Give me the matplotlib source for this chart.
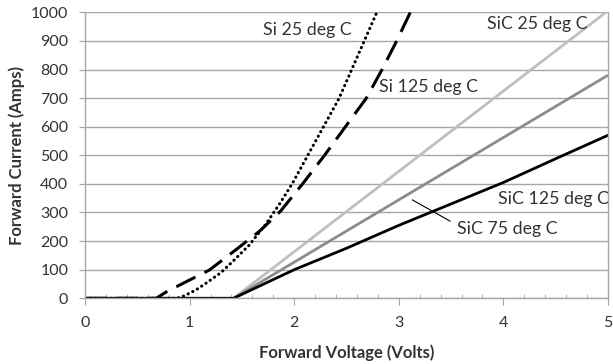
import matplotlib
matplotlib.use("Agg")
import matplotlib.pyplot as plt
from matplotlib.ticker import MultipleLocator

plt.rcParams['font.family'] = ['Lato', 'DejaVu Sans']

# Si diodes (volts, amps)
si25_v = [0.0, 0.88, 0.95, 1.06, 1.17, 1.30, 1.41, 1.57, 1.72, 1.86, 1.98, 2.13, 2.28, 2.43, 2.55, 2.67, 2.79]
si25_a = [0, 0, 9, 29, 56, 90, 128, 186, 255, 330, 400, 500, 600, 700, 800, 900, 1000]

si125_v = [0.0, 0.68, 0.78, 1.0, 1.19, 1.44, 1.67, 1.87, 2.08, 2.29, 2.49, 2.69, 2.84, 2.98, 3.11]
si125_a = [0, 0, 23, 64, 99, 169, 235, 305, 400, 500, 600, 700, 800, 900, 1000]

# SiC diodes
sic25_v = [0.0, 1.42, 4.98]
sic25_a = [0, 0, 1000]

sic75_v = [0.0, 1.42, 5.0]
sic75_a = [0, 0, 780]

sic125_v = [0.0, 1.42, 2.0, 2.5, 3.0, 3.5, 4.0, 4.5, 5.0]
sic125_a = [0, 0, 100, 175, 255, 330, 405, 488, 570]

fig = plt.figure(figsize=(6.13, 3.64), dpi=100)
ax = fig.add_axes([0.1387, 0.1805, 0.8531, 0.7857])

ax.grid(axis='y', color='#a6a6a6', linewidth=1.0)
ax.set_axisbelow(True)

ax.plot(sic25_v, sic25_a, color='#bfbfbf', lw=2.0, solid_capstyle='butt')
ax.plot(sic75_v, sic75_a, color='#8c8c8c', lw=2.0, solid_capstyle='butt')
ax.plot(si25_v, si25_a, color='black', lw=2.2, linestyle=(0, (0.1, 1.6)),
        dash_capstyle='round')
ax.plot(si125_v, si125_a, color='black', lw=2.2, linestyle=(0, (7, 3.3)))
ax.plot(sic125_v, sic125_a, color='black', lw=2.0)

ax.set_xlim(0, 5)
ax.set_ylim(0, 1000)
ax.xaxis.set_major_locator(MultipleLocator(1))
ax.xaxis.set_minor_locator(MultipleLocator(0.2))
ax.yaxis.set_major_locator(MultipleLocator(100))

for s in ax.spines.values():
    s.set_color('#a6a6a6')
    s.set_linewidth(1.0)
ax.spines['top'].set_visible(False)

ax.tick_params(axis='x', which='major', direction='out', length=5, color='#a6a6a6',
               labelsize=11.5, pad=8, labelcolor='#333333')
ax.tick_params(axis='x', which='minor', direction='in', length=3, color='#a6a6a6')
ax.tick_params(axis='y', which='major', direction='out', length=4, color='#a6a6a6',
               labelsize=11.5, pad=8, labelcolor='#333333')

ax.set_xlabel('Forward Voltage (Volts)', fontsize=12, fontweight='bold', color='#333333', labelpad=10)
ax.set_ylabel('Forward Current (Amps)', fontsize=12, fontweight='bold', color='#333333', labelpad=4)

tk = dict(fontsize=12.8, color='#333333', va='center')
ax.text(1.70, 938, 'Si 25 deg C', **tk)
ax.text(2.81, 738, 'Si 125 deg C', **tk)
ax.text(3.84, 960, 'SiC 25 deg C', **tk)
ax.text(3.95, 347, 'SiC 125 deg C', **tk)
ax.text(3.56, 242, 'SiC 75 deg C', **tk)
ax.plot([3.13, 3.49], [344, 270], color='black', lw=0.8)

fig.savefig('out.png', dpi=100)
